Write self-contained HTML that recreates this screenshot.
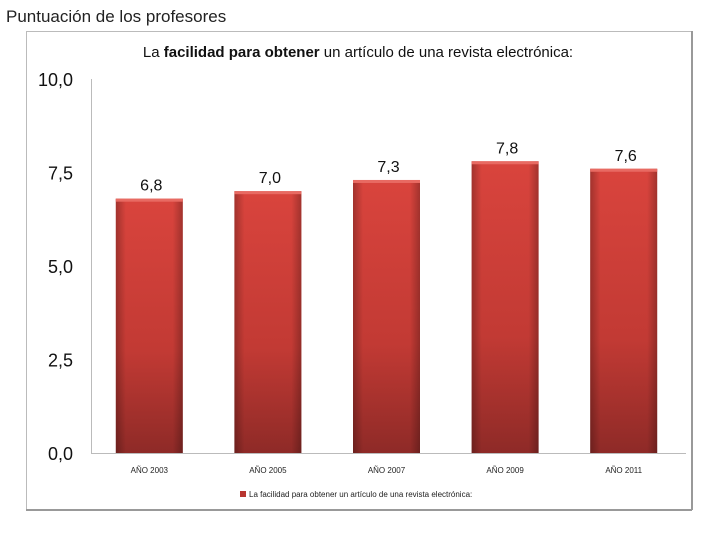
<!DOCTYPE html>
<html><head><meta charset="utf-8"><style>
body{margin:0;background:#fff;width:720px;height:540px;overflow:hidden;font-family:"Liberation Sans",sans-serif}
</style></head><body>
<svg width="720" height="540">
<defs>
<linearGradient id="gv" x1="0" y1="0" x2="0" y2="1"><stop offset="0" stop-color="#d9443d"/><stop offset="0.6" stop-color="#c23a34"/><stop offset="1" stop-color="#8e2a27"/></linearGradient>
<linearGradient id="gh" x1="0" y1="0" x2="1" y2="0"><stop offset="0" stop-color="#000" stop-opacity="0.25"/><stop offset="0.15" stop-color="#000" stop-opacity="0"/><stop offset="0.85" stop-color="#000" stop-opacity="0"/><stop offset="1" stop-color="#000" stop-opacity="0.25"/></linearGradient>
</defs>
<text x="6" y="22" font-size="17" fill="#222">Puntuación de los profesores</text>
<rect x="26.5" y="31.5" width="666" height="478" fill="none" stroke="#bbb"/>
<line x1="26" y1="510" x2="692" y2="510" stroke="#999" stroke-width="2"/>
<line x1="692" y1="31" x2="692" y2="510" stroke="#999" stroke-width="2"/>
<text x="358" y="57" font-size="15" text-anchor="middle" fill="#111">La <tspan font-weight="bold">facilidad para obtener</tspan> un artículo de una revista electrónica:</text>
<line x1="91.5" y1="79" x2="91.5" y2="453" stroke="#bbb"/>
<line x1="91" y1="453.5" x2="686" y2="453.5" stroke="#bbb"/>
<g id="ticks"></g><g id="bars"></g>
<rect x="240" y="491" width="6" height="6" fill="#b83530"/>
<text x="249" y="497" font-size="8" fill="#222">La facilidad para obtener un artículo de una revista electrónica:</text>
</svg>
<script>
const categories=["AÑO 2003","AÑO 2005","AÑO 2007","AÑO 2009","AÑO 2011"];
const values=[6.8,7.0,7.3,7.8,7.6];
const valueLabels=["6,8","7,0","7,3","7,8","7,6"];
const tickValues=[0,2.5,5,7.5,10];
const tickLabels=["0,0","2,5","5,0","7,5","10,0"];
const NS="http://www.w3.org/2000/svg";
const y=v=>453-v*37.4;
const slot=118.6, x0=91;
const xc=i=>x0+slot*(i+0.5)-1;
function mk(t,a,p){const e=document.createElementNS(NS,t);for(const k in a)e.setAttribute(k,a[k]);p.appendChild(e);return e;}
const tg=document.getElementById('ticks');
tickValues.forEach((v,i)=>{
 const t=mk('text',{x:73,y:y(v)+7,'font-size':18,'text-anchor':'end',fill:'#111'},tg);
 t.textContent=tickLabels[i];
 
 
});
const bg=document.getElementById('bars');
values.forEach((v,i)=>{
 const w=67,x=xc(i)-w/2,top=y(v);
 const r=mk('rect',{x:x,y:top,width:w,height:453-top,fill:'url(#gv)'},bg);
 
 
 mk('rect',{x:x,y:top,width:w,height:453-top,fill:'url(#gh)'},bg);
 mk('rect',{x:x,y:top,width:w,height:3,fill:'#e86a62'},bg);
 const l=mk('text',{x:xc(i)+2,y:top-8,'font-size':16,'text-anchor':'middle',fill:'#111'},bg);
 l.textContent=valueLabels[i];
 
 
 const c=mk('text',{x:xc(i),y:473,'font-size':8,'text-anchor':'middle',fill:'#222'},bg);
 c.textContent=categories[i];
 
 
});
</script>
</body></html>
